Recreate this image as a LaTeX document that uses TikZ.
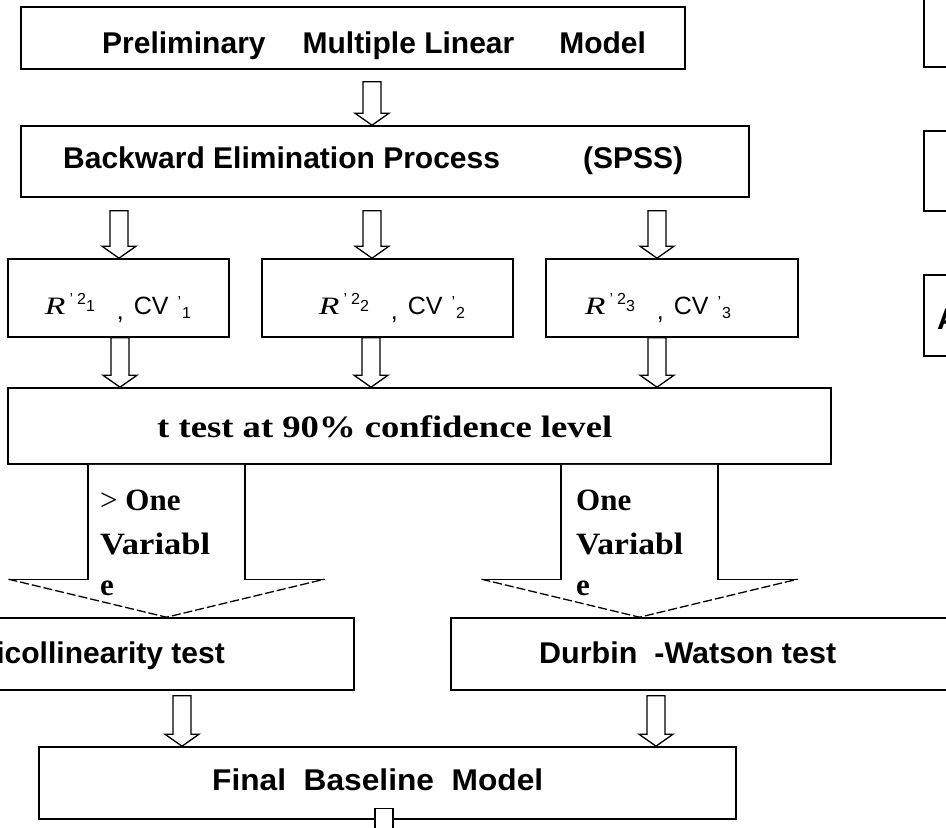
\documentclass[tikz,border=0pt]{standalone}
\usepackage{fontspec}
\usepackage{graphicx}
\setmainfont{Liberation Serif}
\setsansfont{Liberation Sans}
\usetikzlibrary{calc}
\tikzset{
  box/.style={draw, line width=1.6pt, inner sep=0pt, fill=white},
  hollow/.style={draw, line width=1.3pt, fill=white, line join=miter},
  bigline/.style={line width=1.3pt},
  bigdash/.style={line width=1.3pt, dash pattern=on 9pt off 3pt},
  sanslbl/.style={inner sep=0pt, font=\sffamily\bfseries\fontsize{30}{36}\selectfont},
  seriflbl/.style={inner sep=0pt, font=\rmfamily\bfseries\fontsize{31}{36}\selectfont},
  rlbl/.style={inner sep=0pt, font=\sffamily\fontsize{25}{30}\selectfont}
}
\newcommand\harrow[4]{%
  \path (#1,0 |- #2.south) coordinate (ha) (#1,0 |- #3.north) coordinate (hb);
  \draw[hollow] ([shift={(-9,#4)}]ha) -- ([shift={(-9,-12)}]hb) -- ([shift={(-17,-12)}]hb) -- (hb)
     -- ([shift={(17,-12)}]hb) -- ([shift={(9,-12)}]hb) -- ([shift={(9,#4)}]ha) -- cycle;
}
\newcommand\bigarrow[3]{%
  \path (#1,0 |- #2.south) coordinate (ba) (#1,0 |- #3.north) coordinate (bb);
  \fill[white] ([shift={(-78.5,0)}]ba) -- ([shift={(-78.5,-38)}]bb) -- ([shift={(-158,-38)}]bb) -- (bb)
     -- ([shift={(158,-38)}]bb) -- ([shift={(78.5,-38)}]bb) -- ([shift={(78.5,0)}]ba) -- cycle;
  \draw[bigline] ([shift={(-158,-38)}]bb) -- ([shift={(-78.5,-38)}]bb) -- ([shift={(-78.5,0)}]ba);
  \draw[bigline] ([shift={(78.5,0)}]ba) -- ([shift={(78.5,-38)}]bb) -- ([shift={(158,-38)}]bb);
  \draw[bigdash] ([shift={(-158,-38)}]bb) -- (bb) -- ([shift={(158,-38)}]bb);
}
\newcommand\smallfs{\fontsize{16}{16}\selectfont}
\newcommand\rlab[1]{\scalebox{1.35}[1]{\textit{\rmfamily R}}\hspace{4pt}\raisebox{10pt}{\smallfs '}\hspace{4pt}\raisebox{10pt}{\smallfs 2}\raisebox{3pt}{\smallfs #1}\hspace{22pt}\raisebox{-5pt}{,}\hspace{10pt}CV\hspace{9pt}\raisebox{7pt}{\smallfs '}\hspace{1pt}\raisebox{-4pt}{\smallfs #1}}
\begin{document}
\begin{tikzpicture}[x=1pt,y=-1pt]
\useasboundingbox (0,0) rectangle (946,828);
\fill[white] (0,0) rectangle (946,828);
\clip (0,0) rectangle (946,828);

% boxes
\node[box, minimum width=664pt, minimum height=62pt] (pre) at (353,38) {};
\node[box, minimum width=728pt, minimum height=71pt] (back) at (385,161.5) {};
\node[box, minimum width=221pt, minimum height=78pt] (r1) at (118.5,298) {};
\node[box, minimum width=251pt, minimum height=78pt] (r2) at (387.5,298) {};
\node[box, minimum width=252pt, minimum height=78pt] (r3) at (672,298) {};
\node[box, minimum width=823pt, minimum height=76pt] (tt) at (419.5,426) {};
\node[box, minimum width=384pt, minimum height=72pt] (mc) at (162,654) {};
\node[box, minimum width=529pt, minimum height=72pt] (dw) at (715.5,654) {};
\node[box, minimum width=697pt, minimum height=72pt] (fin) at (387.5,783) {};
\node[box, minimum width=100pt, minimum height=87pt] (s1) at (974,23.5) {};
\node[box, minimum width=100pt, minimum height=80pt] (s2) at (974,171) {};
\node[box, minimum width=100pt, minimum height=81pt] (s3) at (974,315.5) {};

% texts
\node[sanslbl, anchor=base west] (preT) at (102,53) {Preliminary\hspace{37pt}Multiple Linear\hspace{45pt}Model};
\node[sanslbl, anchor=base west] (backT) at (63,168) {Backward Elimination Process};
\node[sanslbl, anchor=base west] (spssT) at (583,168) {(SPSS)};
\node[rlbl, anchor=base] (r1T) at (118,314) {\rlab{1}};
\node[rlbl, anchor=base] (r2T) at (392,314) {\rlab{2}};
\node[rlbl, anchor=base] (r3T) at (658,314) {\rlab{3}};
\node[seriflbl, anchor=base west] (ttT) at (157,437) {\resizebox{455pt}{\height}{t test at 90\% confidence level}};
\node[sanslbl, anchor=base east] (mcT) at (225,663) {Multicollinearity test};
\node[sanslbl, anchor=base west] (dwT) at (539,663) {\resizebox{297pt}{\height}{Durbin\ \ -Watson test}};
\node[sanslbl, anchor=base west] (finT) at (212,790) {\resizebox{331pt}{\height}{Final\ \ Baseline\ \ Model}};
\node[sanslbl, anchor=base west] (s3T) at (937,329) {A};

% small hollow arrows
\harrow{372}{pre}{back}{12}
\harrow{119}{back}{r1}{13}
\harrow{372}{back}{r2}{13}
\harrow{657}{back}{r3}{13}
\harrow{120}{r1}{tt}{0}
\harrow{371}{r2}{tt}{0}
\harrow{657}{r3}{tt}{0}
\harrow{182}{mc}{fin}{5}
\harrow{656}{dw}{fin}{5}

% big arrows
\bigarrow{166.5}{tt}{mc}
\bigarrow{639.5}{tt}{dw}

% arrow labels
\node[seriflbl, anchor=base west] (l1) at (100,510) {{\mdseries >} One};
\node[seriflbl, anchor=base west] (l2) at (100,554) {\resizebox{110pt}{\height}{Variabl}};
\node[seriflbl, anchor=base west] (l3) at (100,595) {e};
\node[seriflbl, anchor=base west] (m1) at (576,510) {One};
\node[seriflbl, anchor=base west] (m2) at (576,554) {\resizebox{107pt}{\height}{Variabl}};
\node[seriflbl, anchor=base west] (m3) at (576,595) {e};

% stub leaving the final box
\path (384,0 |- fin.south) coordinate (st);
\draw[hollow] ([shift={(-9,-11)}]st) rectangle ([shift={(9,30)}]st);
\end{tikzpicture}
\end{document}
